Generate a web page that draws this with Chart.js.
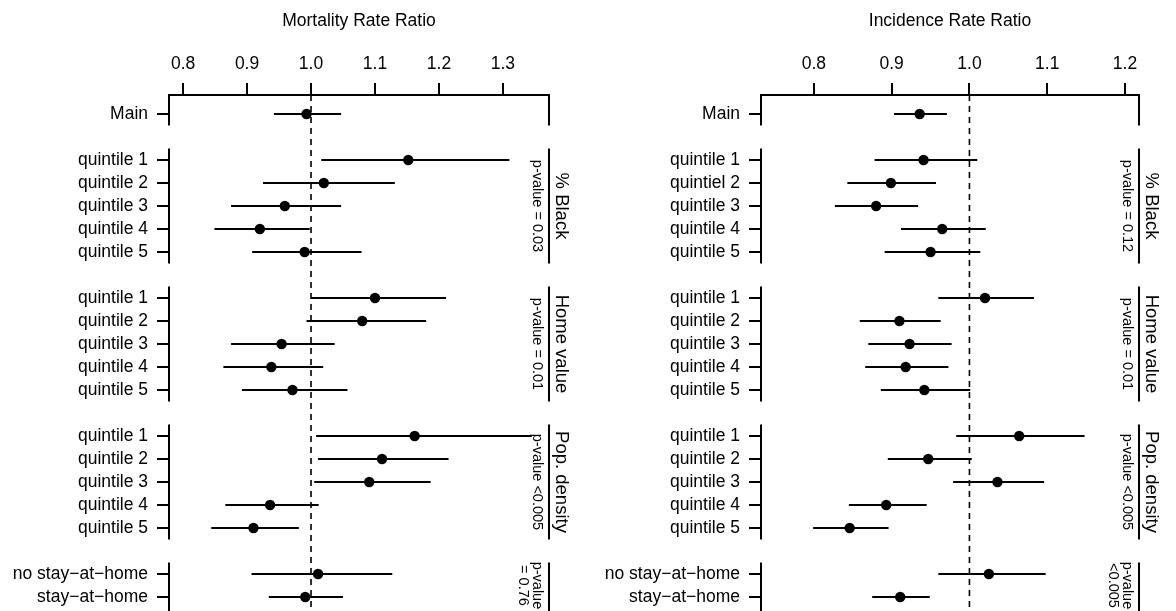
<!DOCTYPE html>
<html lang="en">
<head>
<meta charset="UTF-8">
<title>Mortality and Incidence Rate Ratios</title>
<script src="https://cdn.jsdelivr.net/npm/chart.js"></script>
<style>
  body { margin: 0; background: #fff; }
  .panels { display: flex; width: 1176px; height: 611px; }
  canvas { display: block; }
</style>
</head>
<body>
<div class="panels">
  <canvas id="mrrChart" width="588" height="611"></canvas>
  <canvas id="irrChart" width="588" height="611"></canvas>
</div>
<script>
// rows of the forest plot (blank rows separate the groups)
const rowIndex = [0, 2, 3, 4, 5, 6, 8, 9, 10, 11, 12, 14, 15, 16, 17, 18, 20, 21];
const labelsMrr = ['Main', 'quintile 1', 'quintile 2', 'quintile 3', 'quintile 4', 'quintile 5',
  'quintile 1', 'quintile 2', 'quintile 3', 'quintile 4', 'quintile 5',
  'quintile 1', 'quintile 2', 'quintile 3', 'quintile 4', 'quintile 5',
  'no stay\u2212at\u2212home', 'stay\u2212at\u2212home'];
const labelsIrr = ['Main', 'quintile 1', 'quintiel 2', 'quintile 3', 'quintile 4', 'quintile 5',
  'quintile 1', 'quintile 2', 'quintile 3', 'quintile 4', 'quintile 5',
  'quintile 1', 'quintile 2', 'quintile 3', 'quintile 4', 'quintile 5',
  'no stay\u2212at\u2212home', 'stay\u2212at\u2212home'];

// Mortality rate ratio: estimate, lower, upper
const mrrEst = [0.993, 1.152, 1.020, 0.959, 0.920, 0.990, 1.100, 1.080, 0.954, 0.938, 0.971,
  1.162, 1.111, 1.091, 0.936, 0.910, 1.011, 0.991];
const mrrLo = [0.942, 1.016, 0.925, 0.875, 0.849, 0.908, 1.000, 0.993, 0.875, 0.863, 0.892,
  1.008, 1.011, 1.005, 0.866, 0.844, 0.907, 0.934];
const mrrHi = [1.047, 1.310, 1.131, 1.047, 0.998, 1.079, 1.211, 1.180, 1.037, 1.019, 1.057,
  1.345, 1.215, 1.187, 1.012, 0.981, 1.127, 1.050];

// Incidence rate ratio: estimate, lower, upper
const irrEst = [0.936, 0.941, 0.899, 0.880, 0.965, 0.950, 1.020, 0.910, 0.923, 0.918, 0.942,
  1.064, 0.947, 1.036, 0.893, 0.846, 1.025, 0.911];
const irrLo = [0.903, 0.878, 0.843, 0.827, 0.912, 0.891, 0.960, 0.859, 0.870, 0.866, 0.886,
  0.983, 0.895, 0.979, 0.845, 0.799, 0.960, 0.875];
const irrHi = [0.971, 1.010, 0.957, 0.934, 1.021, 1.014, 1.083, 0.963, 0.977, 0.973, 1.001,
  1.148, 1.003, 1.096, 0.945, 0.896, 1.098, 0.949];

// groups
const groupStart = [0, 2, 8, 14, 20];
const groupEnd = [0, 6, 12, 18, 21];
const groupNames = ['', '% Black', 'Home value', 'Pop. density', ''];
const pvalMrr = ['', 'p-value = 0.03', 'p-value = 0.01', 'p-value <0.005', 'p-value\n= 0.76'];
const pvalIrr = ['', 'p-value = 0.12', 'p-value = 0.01', 'p-value <0.005', 'p-value\n<0.005'];

const ticksMrr = [0.8, 0.9, 1.0, 1.1, 1.2, 1.3];
const ticksIrr = [0.8, 0.9, 1.0, 1.1, 1.2];

const FONT = '"Liberation Sans", Arial, Helvetica, sans-serif';
const Y_MIN = -0.826, Y_MAX = 21.61;

// group frames, group names and p-values
const forestDecor = {
  id: 'forestDecor',
  afterDraw(chart, args, opts) {
    const { ctx, chartArea, scales: { y } } = chart;
    ctx.save();
    ctx.strokeStyle = '#000';
    ctx.fillStyle = '#000';
    ctx.lineWidth = 2;
    groupStart.forEach((g, i) => {
      const top = i === 0 ? chartArea.top : y.getPixelForValue(g - 0.5);
      const bot = i === groupStart.length - 1 ? chartArea.bottom : y.getPixelForValue(groupEnd[i] + 0.5);
      [chartArea.left, chartArea.right].forEach(px => {
        ctx.beginPath();
        ctx.moveTo(px, top);
        ctx.lineTo(px, bot);
        ctx.stroke();
      });
      const mid = y.getPixelForValue((g + groupEnd[i]) / 2);
      ctx.textAlign = 'center';
      ctx.textBaseline = 'middle';
      if (groupNames[i]) {
        ctx.save();
        ctx.translate(chartArea.right + 12, mid);
        ctx.rotate(Math.PI / 2);
        ctx.font = '18.5px ' + FONT;
        ctx.fillText(groupNames[i], 0, 0);
        ctx.restore();
      }
      if (opts.pvals[i]) {
        opts.pvals[i].split('\n').forEach((line, k) => {
          ctx.save();
          ctx.translate(chartArea.right - 12.5 - k * 13.5, mid);
          ctx.rotate(Math.PI / 2);
          ctx.font = '14.5px ' + FONT;
          ctx.fillText(line, 0, 0);
          ctx.restore();
        });
      }
    });
    ctx.restore();
  }
};

function makePanel(id, title, labels, est, lo, hi, ticks, xMin, xMax, yWidth, padRight, pvals) {
  const datasets = [];
  datasets.push({
    data: rowIndex.map((r, i) => ({ x: est[i], y: r })),
    pointRadius: 5.2,
    pointBackgroundColor: '#000',
    pointBorderColor: '#000',
    pointBorderWidth: 0,
    order: 0
  });
  rowIndex.forEach((r, i) => {
    datasets.push({
      data: [{ x: lo[i], y: r }, { x: hi[i], y: r }],
      showLine: true,
      borderColor: '#000',
      borderWidth: 2,
      pointRadius: 0,
      order: 1
    });
  });
  datasets.push({
    data: [{ x: 1, y: Y_MIN }, { x: 1, y: Y_MAX }],
    showLine: true,
    borderColor: '#000',
    borderWidth: 1.6,
    borderDash: [6, 5],
    pointRadius: 0,
    order: 2
  });

  new Chart(document.getElementById(id), {
    type: 'scatter',
    data: { datasets },
    plugins: [forestDecor],
    options: {
      responsive: false,
      animation: false,
      layout: { autoPadding: false, padding: { left: 0, right: padRight, top: 0, bottom: 0 } },
      plugins: {
        legend: { display: false },
        tooltip: { enabled: false },
        forestDecor: { pvals }
      },
      scales: {
        x: {
          type: 'linear',
          position: 'top',
          min: xMin,
          max: xMax,
          afterBuildTicks: s => { s.ticks = ticks.map(v => ({ value: v })); },
          afterFit: s => { s.height = 95; s.paddingLeft = 0; s.paddingRight = 0; },
          ticks: {
            callback: v => v.toFixed(1),
            font: { size: 17.5, family: FONT },
            color: '#000',
            padding: 8,
            maxRotation: 0,
            autoSkip: false
          },
          grid: { drawOnChartArea: false, drawTicks: true, tickLength: 12, color: '#000', lineWidth: 2 },
          border: { display: true, color: '#000', width: 2 },
          title: {
            display: true,
            text: title,
            font: { size: 17.5, family: FONT },
            color: '#000',
            padding: { top: 11, bottom: 0 }
          }
        },
        y: {
          type: 'linear',
          min: Y_MIN,
          max: Y_MAX,
          reverse: true,
          afterBuildTicks: s => { s.ticks = rowIndex.map(v => ({ value: v })); },
          afterFit: s => { s.width = yWidth; s.paddingTop = 0; s.paddingBottom = 0; },
          ticks: {
            callback: (v, i) => labels[i],
            font: { size: 17.5, family: FONT },
            color: '#000',
            padding: 9,
            autoSkip: false
          },
          grid: { drawOnChartArea: false, drawTicks: true, tickLength: 12, color: '#000', lineWidth: 2 },
          border: { display: false }
        }
      }
    }
  });
}

makePanel('mrrChart', 'Mortality Rate Ratio', labelsMrr, mrrEst, mrrLo, mrrHi,
  ticksMrr, 0.778, 1.372, 169, 39, pvalMrr);
makePanel('irrChart', 'Incidence Rate Ratio', labelsIrr, irrEst, irrLo, irrHi,
  ticksIrr, 0.732, 1.218, 173, 37, pvalIrr);
</script>
</body>
</html>
